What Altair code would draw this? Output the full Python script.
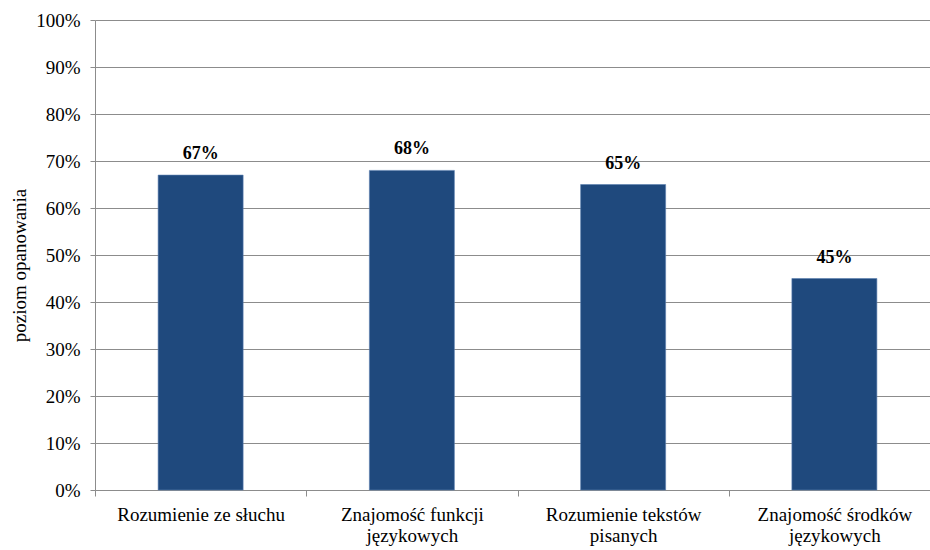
import altair as alt
import pandas as pd

categories = [
    "Rozumienie ze słuchu",
    "Znajomość funkcji|językowych",
    "Rozumienie tekstów|pisanych",
    "Znajomość środków|językowych",
]
values = [0.67, 0.68, 0.65, 0.45]
value_labels = ["67%", "68%", "65%", "45%"]
y_ticks = [0, 0.1, 0.2, 0.3, 0.4, 0.5, 0.6, 0.7, 0.8, 0.9, 1.0]

df = pd.DataFrame({"kat": categories, "val": values, "lab": value_labels})

FONT = "Liberation Serif"
GRAY = "#8c8c8c"

x_enc = alt.X(
    "kat:N",
    sort=categories,
    scale=alt.Scale(range=[0, 845], paddingInner=0, paddingOuter=0),
    axis=alt.Axis(
        title=None,
        labelAngle=0,
        labelExpr="split(datum.label, '|')",
        labelFont=FONT,
        labelFontSize=19,
        labelColor="#000000",
        labelLineHeight=21,
        labelPadding=9,
        tickBand="extent",
        tickSize=6,
        tickColor=GRAY,
        domainColor=GRAY,
        grid=False,
    ),
)

bars = alt.Chart(df).mark_bar(
    size=85, color="#1F497D", stroke="#5B7FB0", strokeWidth=0.6
).encode(
    x=x_enc,
    y=alt.Y(
        "val:Q",
        scale=alt.Scale(domain=[0, 1], nice=False),
        axis=alt.Axis(
            values=y_ticks,
            format=".0%",
            title="poziom opanowania",
            titleFont=FONT,
            titleFontSize=19,
            titleFontWeight="normal",
            titleColor="#000000",
            titleX=-76,
            titleY=245,
            titleAlign="center",
            titleBaseline="middle",
            labelFont=FONT,
            labelFontSize=19,
            labelColor="#000000",
            labelPadding=10,
            tickSize=5,
            tickColor=GRAY,
            domainColor=GRAY,
            gridColor=GRAY,
            gridOpacity=1,
        ),
    ),
)

text = alt.Chart(df).mark_text(
    font=FONT, fontSize=18, fontWeight="bold", color="#000000", dy=-12, baseline="bottom"
).encode(
    x=alt.X("kat:N", sort=categories),
    y=alt.Y("val:Q"),
    text="lab:N",
)

chart = (
    alt.layer(bars, text)
    .properties(
        width=835,
        height=470,
        autosize=alt.AutoSizeParams(type="none"),
        padding={"left": 95, "top": 20, "right": 0, "bottom": 60},
        background="#ffffff",
    )
    .configure(font=FONT)
    .configure_view(stroke=None)
)

chart.save("out.html", embed_options={"renderer": "svg", "actions": False})
